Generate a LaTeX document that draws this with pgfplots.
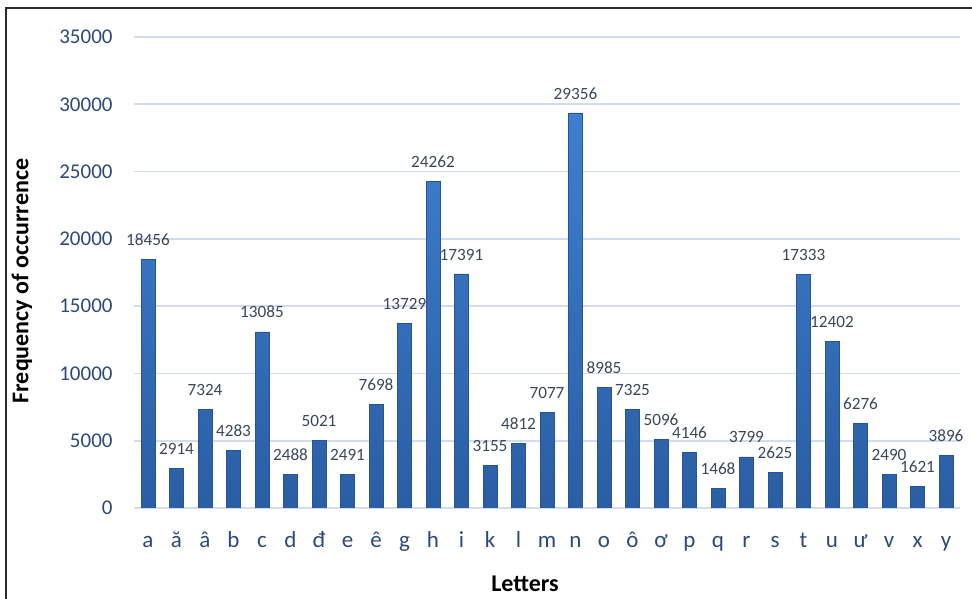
\documentclass[border=0pt]{standalone}
\usepackage{pgfplots}
\pgfplotsset{compat=1.18}
\usepackage{fontspec}
\setmainfont{Carlito}

\definecolor{tickblue}{HTML}{2C4A78}
\definecolor{barTop}{HTML}{3F7FCF}
\definecolor{barBot}{HTML}{2A5EA4}
\definecolor{barEdge}{HTML}{255693}
\definecolor{gridc}{HTML}{D2DCEE}
\definecolor{valc}{HTML}{3A475C}
\definecolor{framec}{HTML}{2A2A2A}

% letter frequencies (index = position in the alphabet list below)
\pgfplotstableread{
idx freq
0  18456
1  2914
2  7324
3  4283
4  13085
5  2488
6  5021
7  2491
8  7698
9  13729
10 24262
11 17391
12 3155
13 4812
14 7077
15 29356
16 8985
17 7325
18 5096
19 4146
20 1468
21 3799
22 2625
23 17333
24 12402
25 6276
26 2490
27 1621
28 3896
}\freqtable

\begin{document}
\begin{tikzpicture}
\path[use as bounding box] (0pt,0pt) rectangle (972pt,599pt);
% frame
\draw[framec, line width=2.2pt] (972pt,591pt) -- (6pt,591pt) -- (6pt,0pt);

\begin{axis}[
  at={(133.75pt,91pt)}, anchor=south west,
  scale only axis, width=826.5pt, height=471pt,
  xmin=-0.5, xmax=28.5, ymin=0, ymax=35000,
  ytick={0,5000,...,35000},
  xtick={0,...,28},
  xticklabels={a,ă,â,b,c,d,đ,e,ê,g,h,i,k,l,m,n,o,ô,ơ,p,q,r,s,t,u,ư,v,x,y},
  axis line style={draw=none},
  major tick length=0pt,
  ymajorgrids, grid style={gridc, line width=1.7pt},
  scaled y ticks=false,
  /pgf/number format/assume math mode=true,
  /pgf/number format/1000 sep={},
  yticklabel style={font=\fontsize{21}{24}\selectfont, text=tickblue, inner sep=0pt, xshift=-21pt},
  xticklabel style={font=\fontsize{23}{26}\selectfont, text=tickblue, anchor=base, inner sep=0pt, yshift=-40pt},
  ybar, bar width=14pt,
  nodes near coords,
  every node near coord/.append style={font=\fontsize{17.2}{20}\selectfont, text=valc, inner sep=0pt, yshift=13.5pt},
]
\addplot[draw=barEdge, line width=0.6pt, top color=barTop, bottom color=barBot] table[x=idx, y=freq] {\freqtable};
\end{axis}

\node[rotate=90, font=\bfseries\fontsize{24}{28}\selectfont] at (22pt,318pt) {Frequency of occurrence};
\node[font=\bfseries\fontsize{24}{28}\selectfont] at (525pt,15pt) {Letters};
\end{tikzpicture}
\end{document}
